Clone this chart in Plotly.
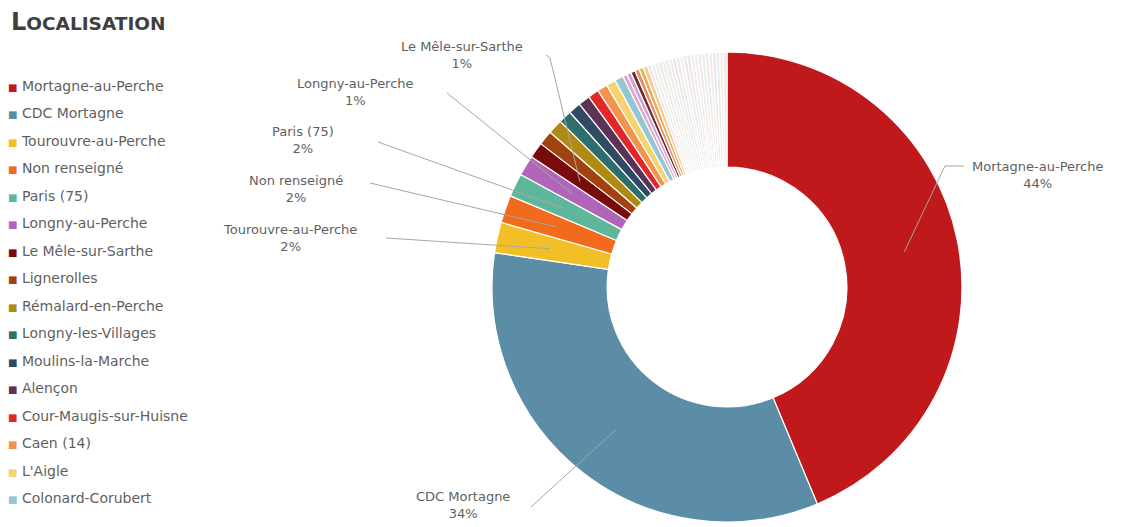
import plotly.graph_objects as go
import numpy as np

# ── Data ──
labels = [
    "Mortagne-au-Perche", "CDC Mortagne", "Tourouvre-au-Perche", "Non renseigné",
    "Paris (75)", "Longny-au-Perche", "Le Mêle-sur-Sarthe", "Lignerolles",
    "Rémalard-en-Perche", "Longny-les-Villages", "Moulins-la-Marche", "Alençon",
    "Cour-Maugis-sur-Huisne", "Caen (14)", "L'Aigle", "Colonard-Corubert",
] + [f"Autre commune {i}" for i in range(1, 29)]

values = [
    43.7, 33.6, 2.1, 1.9,
    1.6, 1.4, 1.1, 1.0,
    1.0, 0.9, 0.85, 0.8,
    0.75, 0.7, 0.65, 0.6,
    0.3, 0.3, 0.3, 0.3, 0.3, 0.3,
    0.25, 0.25, 0.25, 0.25, 0.25, 0.25, 0.25, 0.25, 0.25, 0.25, 0.25,
    0.25, 0.25, 0.25, 0.25, 0.25, 0.25, 0.25, 0.25, 0.25, 0.25, 0.25,
]

# slices that carry an outside label
labelled = ["Mortagne-au-Perche", "CDC Mortagne", "Tourouvre-au-Perche", "Non renseigné",
            "Paris (75)", "Longny-au-Perche", "Le Mêle-sur-Sarthe"]

# number of entries visible in the (truncated) legend
n_legend = 16

pale = ["#F1E6E6", "#E8EEF2", "#F5EFDD", "#F0E6EE", "#E7F1EC", "#F4E9DE",
        "#EDEDED", "#F1E3E3", "#E5ECF1", "#F6F1E3", "#EEE6EF"]
colors = [
    "#C0191C", "#5B8DA6", "#F3BF27", "#F26A1C",
    "#5EB79A", "#B065B9", "#7A0B0C", "#A2430F",
    "#B08B13", "#2E6E6B", "#2F4A62", "#5B3455",
    "#E2272B", "#F4944C", "#F5D36D", "#96C6D3",
    "#E6A2C7", "#C8A5D6", "#6E2C22", "#E88C7A", "#E1B348", "#F6C89A",
] + pale * 2

W, H = 1143, 527
CX, CY, R = 727, 287, 235   # pie centre / radius in pixels
HOLE = 0.51

fig = go.Figure()

fig.add_trace(go.Pie(
    labels=labels, values=values,
    sort=False, direction='clockwise', rotation=0,
    hole=HOLE,
    marker=dict(colors=colors, line=dict(color='white', width=1.2)),
    textinfo='none', hoverinfo='label+percent',
    domain=dict(x=[(CX - R) / W, (CX + R) / W], y=[(H - CY - R) / H, (H - CY + R) / H]),
    showlegend=False,
))

# ── Outside labels with leader lines ──
label_pos = {
    # name: (text centre x, text centre y, line anchor x, line anchor y)  in pixels
    "Mortagne-au-Perche": (1037, 175, 964, 166),
    "CDC Mortagne": (463, 505, 531, 507),
    "Tourouvre-au-Perche": (290, 238, 386, 238),
    "Non renseigné": (296, 189, 370, 183),
    "Paris (75)": (303, 140, 378, 142),
    "Longny-au-Perche": (355, 92, 447, 93),
    "Le Mêle-sur-Sarthe": (462, 55, 546, 55),
}
elbows = {"Mortagne-au-Perche": (945, 166), "Le Mêle-sur-Sarthe": (550, 58)}

label_font = dict(family='DejaVu Sans', size=13, color='#5F5F5F')

total = sum(values)
cum = np.cumsum([0] + values)
for name in labelled:
    i = labels.index(name)
    mid = (cum[i] + values[i] / 2) / total * 2 * np.pi
    rr = R * 0.77
    px, py = CX + rr * np.sin(mid), CY - rr * np.cos(mid)
    tx, ty, ax, ay = label_pos[name]
    pts = [(ax, ay)]
    if name in elbows:
        pts.append(elbows[name])
    pts.append((px, py))
    path = "M " + " L ".join(f"{x / W:.5f},{1 - y / H:.5f}" for x, y in pts)
    fig.add_shape(type='path', xref='paper', yref='paper', path=path,
                  line=dict(color='#A6A6A6', width=1))
    pct = round(values[i] / total * 100)
    fig.add_annotation(
        x=tx / W, y=1 - ty / H, xref='paper', yref='paper',
        text=f"{name}<br>{pct}%", showarrow=False,
        font=label_font,
        align='center', xanchor='center', yanchor='middle',
    )

# ── Legend (first entries only, as in the original) ──
for k in range(n_legend):
    fig.add_annotation(
        x=6 / W, y=1 - (86 + k * 27.47) / H, xref='paper', yref='paper',
        text=f"<span style='color:{colors[k]};font-size:10px'>■</span> {labels[k]}",
        showarrow=False, xanchor='left', yanchor='middle',
        font=dict(family='DejaVu Sans', size=14, color='#5F5F5F'),
    )

# ── Title ──
fig.add_annotation(
    x=9 / W, y=1 - 22 / H, xref='paper', yref='paper',
    text="<b>L<span style='font-size:18.5px'>OCALISATION</span></b>",
    showarrow=False, xanchor='left', yanchor='middle',
    font=dict(family='DejaVu Sans', size=24, color='#3F3F3F'),
)

fig.update_layout(
    width=W, height=H,
    paper_bgcolor='white', plot_bgcolor='white',
    margin=dict(l=0, r=0, t=0, b=0),
    showlegend=False,
)

# drop the browser's default body margin so the figure sits at the page origin
fig.write_html("out.html", config={'displayModeBar': False},
               post_script="document.body.style.margin='0';")
